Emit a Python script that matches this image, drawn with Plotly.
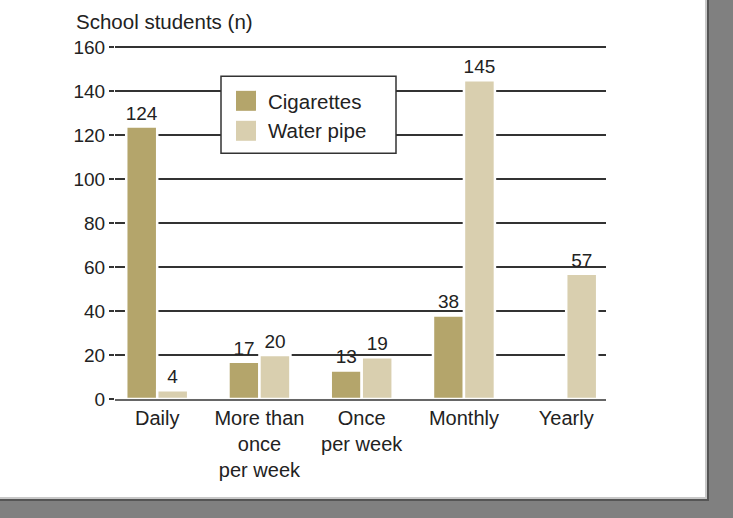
import plotly.graph_objects as go

categories = ["Daily", "More than<br>once<br>per week", "Once<br>per week", "Monthly", "Yearly"]
cigarettes = [124, 17, 13, 38, None]
water_pipe = [4, 20, 19, 145, 57]
series_names = ["Cigarettes", "Water pipe"]
y_ticks = [0, 20, 40, 60, 80, 100, 120, 140, 160]
y_title = "School students (n)"

CIG_COLOR = "#b4a56b"
WP_COLOR = "#d9cfaf"
TEXT = "#222222"
FONT = "Liberation Sans, Arial, sans-serif"

W, H = 733, 518
YMAX = 162
UNIT = 2.2      # px per y unit
BASE = 399      # page pixel of y = 0
# plot area in page pixels: x 115..606, y (BASE - YMAX*UNIT)..BASE
ML = 115
MB = H - BASE
MT = BASE - YMAX * UNIT
MR = W - 606
PW, PH = W - ML - MR, H - MT - MB


def px(x):  # page pixel x -> paper
    return (x - ML) / PW


def py(y):  # page pixel y -> paper
    return 1 - (y - MT) / PH


fig = go.Figure()
for name, vals, col in [(series_names[0], cigarettes, CIG_COLOR), (series_names[1], water_pipe, WP_COLOR)]:
    fig.add_trace(go.Bar(
        name=name, x=list(range(len(categories))), y=vals,
        marker=dict(color=col, line=dict(color="white", width=2.5)),
        text=[("" if v is None else str(v)) for v in vals],
        textposition="outside", cliponaxis=False, constraintext="none",
        textfont=dict(size=19, color=TEXT, family=FONT), showlegend=False,
    ))

shapes = [
    # page frame
    dict(type="rect", xref="paper", yref="paper", x0=px(-20), x1=px(709), y0=py(501), y1=py(-20),
         fillcolor="#555555", line=dict(width=0), layer="below"),
    dict(type="rect", xref="paper", yref="paper", x0=px(-20), x1=px(707), y0=py(499), y1=py(-20),
         fillcolor="#c8c8c8", line=dict(width=0), layer="below"),
    dict(type="rect", xref="paper", yref="paper", x0=px(-20), x1=px(705), y0=py(497), y1=py(-20),
         fillcolor="white", line=dict(width=0), layer="below"),
    # legend box
    dict(type="rect", xref="paper", yref="paper", x0=px(221), x1=px(396), y0=py(153), y1=py(76),
         fillcolor="white", line=dict(color="#333333", width=1.5), layer="above"),
    dict(type="rect", xref="paper", yref="paper", x0=px(236), x1=px(256), y0=py(110.5), y1=py(90.5),
         fillcolor=CIG_COLOR, line=dict(width=0), layer="above"),
    dict(type="rect", xref="paper", yref="paper", x0=px(236), x1=px(256), y0=py(140.5), y1=py(120.5),
         fillcolor=WP_COLOR, line=dict(width=0), layer="above"),
]

annotations = [
    dict(text=y_title, xref="paper", yref="paper", x=px(74), y=py(21), xanchor="left", yanchor="middle",
         showarrow=False, font=dict(size=20.5, color=TEXT, family=FONT)),
    dict(text=series_names[0], xref="paper", yref="paper", x=px(266), y=py(101), xanchor="left",
         yanchor="middle", showarrow=False, font=dict(size=20.5, color=TEXT, family=FONT)),
    dict(text=series_names[1], xref="paper", yref="paper", x=px(266), y=py(130.5), xanchor="left",
         yanchor="middle", showarrow=False, font=dict(size=20.5, color=TEXT, family=FONT)),
]

x0 = (115 - 157.2) / 102.25
x1 = (606 - 157.2) / 102.25

fig.update_layout(
    width=W, height=H,
    margin=dict(l=ML, r=MR, t=MT, b=MB, pad=0),
    paper_bgcolor="#808080", plot_bgcolor="rgba(0,0,0,0)",
    barmode="group", bargap=0.394, bargroupgap=0,
    font=dict(family=FONT, color=TEXT),
    shapes=shapes, annotations=annotations, showlegend=False,
    xaxis=dict(range=[x0, x1], tickmode="array", tickvals=list(range(len(categories))),
               ticktext=categories, showline=True, linecolor="#666666", linewidth=2,
               ticks="", showgrid=False, zeroline=False, fixedrange=True,
               tickfont=dict(size=20, color=TEXT, family=FONT)),
    yaxis=dict(range=[0, YMAX], tickmode="array", tickvals=y_ticks, showgrid=True,
               gridcolor="#333333", gridwidth=2, zeroline=False, showline=False,
               ticks="outside", ticklen=5, tickcolor="#333333", tickwidth=2, fixedrange=True,
               tickfont=dict(size=19, color=TEXT, family=FONT)),
)

fig.write_html(
    "out.html",
    config={"displayModeBar": False, "staticPlot": True},
    post_script="document.body.style.margin='0';document.body.style.overflow='hidden';"
                "document.documentElement.style.overflow='hidden';",
)
